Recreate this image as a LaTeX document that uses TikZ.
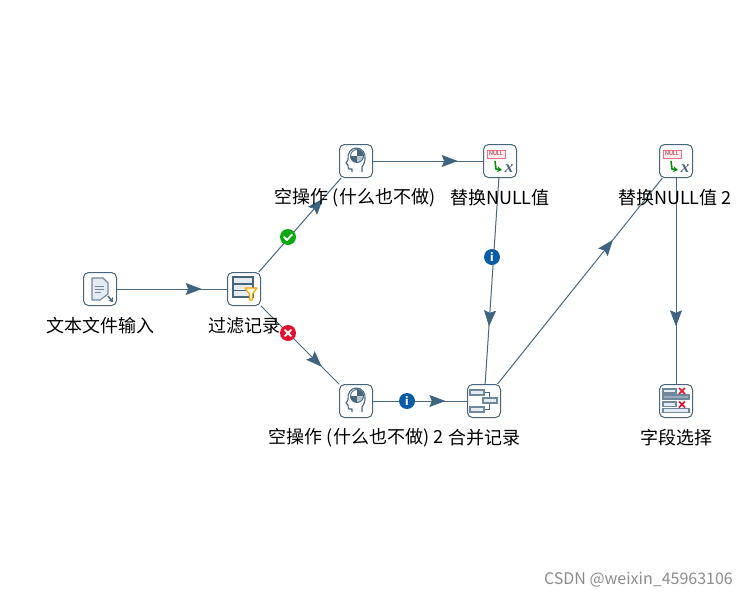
\documentclass[tikz,border=0pt]{standalone}
\usepackage{fontspec}
\setmainfont{Noto Sans CJK SC}
\newfontfamily\ifont{Liberation Serif}
\usetikzlibrary{arrows.meta,decorations.markings}
\definecolor{hop}{HTML}{3D6480}
\definecolor{edge}{HTML}{47657C}
\definecolor{icon}{HTML}{6F889C}
\definecolor{iconfill}{HTML}{E4ECF2}
\definecolor{okgreen}{HTML}{0BA80F}
\definecolor{badred}{HTML}{E0122F}
\definecolor{infoblue}{HTML}{0B5CA8}
\tikzset{
  x=1pt,y=-1pt,
  stepbox/.style={draw=edge,line width=1pt,rounded corners=5pt,fill=white,minimum size=33pt,inner sep=0pt},
  steplabel/.style={font=\fontsize{18}{20}\selectfont,inner sep=0pt,text=black},
  hopline/.style={draw=hop!85!gray,line width=1pt,postaction={decorate},decoration={markings,mark=at position #1 with {\arrow[hop]{Stealth[length=16pt,width=12pt,inset=2.5pt]}}}},
  badge/.style={circle,minimum size=16pt,inner sep=0pt},
  ic/.style={draw=edge,line width=1.1pt},
  icf/.style={draw=icon,line width=1.1pt,fill=iconfill},
}
\newcommand{\nullicon}[1]{%
  \begin{scope}[shift={(#1)}]
    \draw[draw=badred!60,fill=badred!7,line width=.7pt] (-13,-11) rectangle (5,-3);
    \node[inner sep=0pt,font=\fontsize{5.5}{6}\selectfont,text=badred!70!black] (nulltxt) at (-4,-7) {NULL};
    \draw[okgreen!85!black,line width=1.6pt,-{Stealth[length=5pt,width=6pt]}] (-5,0) -- (-4,8) -- (2,9);
    \node[inner sep=0pt,font=\fontsize{17}{17}\selectfont\ifont\itshape\bfseries,text=edge] (xtxt) at (9,8) {x};
  \end{scope}}
\newcommand{\nopicon}[1]{%
  \begin{scope}[shift={(#1)}]
    \draw[ic,fill=white,line join=round] (-4,11) -- (-4,8) -- (-7,8) .. controls (-8,8) and (-8,6) .. (-8,4) -- (-10,2) -- (-8,-1) .. controls (-9,-8) and (-5,-13) .. (0,-13) .. controls (6,-13) and (10,-8) .. (9,-2) .. controls (9,2) and (7,4) .. (6,6) -- (6,11);
    \fill[white] (1,-5) circle (6.5);
    \fill[edge] (1,-5) -- (-5.5,-5) arc (180:90:6.5) -- cycle;
    \fill[edge] (1,-5) -- (7.5,-5) arc (0:-90:6.5) -- cycle;
    \fill[icon!50] (1,-5) -- (7.5,-5) arc (0:90:6.5) -- cycle;
    \draw[edge,line width=.9pt] (1,-5) circle (6.5);
  \end{scope}}
\begin{document}
\begin{tikzpicture}
\useasboundingbox (0,0) rectangle (748,598);
\fill[white] (0,0) rectangle (748,598);
% nodes
\node[stepbox] (input) at (100,289) {};
\node[stepbox] (filter) at (244,289) {};
\node[stepbox] (nopa) at (356,161) {};
\node[stepbox] (repa) at (500,161) {};
\node[stepbox] (repb) at (676,161) {};
\node[stepbox] (nopb) at (356,401) {};
\node[stepbox] (merge) at (484,401) {};
\node[stepbox] (select) at (676,401) {};
% connectors
\path[hopline=.77] (input) -- (filter);
\path[hopline=.78] (filter) -- (nopa);
\path[hopline=.78] (filter) -- (nopb);
\path[hopline=.77] (nopa) -- (repa);
\path[hopline=.77] (nopb) -- (merge);
\path[hopline=.72] (repa) -- (merge);
\path[hopline=.70] (merge) -- (repb);
\path[hopline=.72] (repb) -- (select);
% text file icon
\begin{scope}[shift={(input.center)}]
  \draw[icf,line join=round] (-8,-11) -- (3,-11) -- (8,-6) -- (8,5) -- (0,11) -- (-8,11) -- cycle;
  \draw[icon,line width=1pt] (-5,-3) -- (4,-3) (-5,0) -- (4,0) (-5,3) -- (1,3);
  \draw[edge,line width=1.5pt,-{Stealth[length=4pt,width=6pt]}] (8,7) -- (13,13);
\end{scope}
% filter icon
\begin{scope}[shift={(filter.center)}]
  \draw[draw=edge,line width=1.2pt,fill=iconfill] (-11,-12) rectangle (9,8);
  \draw[edge,line width=1.3pt] (-11,-5) -- (9,-5) (-11,1.5) -- (9,1.5);
  \draw[orange!75!yellow,fill=yellow!12,line width=1.1pt,line join=round] (1,-1) -- (13,-1) -- (8.5,5) -- (8.5,11) -- (5.5,11) -- (5.5,5) -- cycle;
\end{scope}
\nopicon{nopa.center}
\nopicon{nopb.center}
\nullicon{repa.center}
\nullicon{repb.center}
% merge icon
\begin{scope}[shift={(merge.center)}]
  \draw[edge,line width=1pt] (0,-8.5) -- (5,-8.5) -- (5,8.5) -- (0,8.5) (5,0) -- (-1,0);
  \draw[icf] (-14,-11) rectangle (0,-6);
  \draw[icf] (-1,-3) rectangle (13,2);
  \draw[icf] (-14,6) rectangle (0,11);
\end{scope}
% select icon
\begin{scope}[shift={(select.center)}]
  \draw[icf] (-13,-12) rectangle (0,-8);
  \draw[draw=icon,line width=1.2pt,fill=icon!70] (-13,-6) rectangle (13,-2);
  \draw[icf] (-13,1) rectangle (0,5.5);
  \draw[icf] (-13,7.5) rectangle (13,11.5);
  \draw[badred,line width=1.5pt] (3,-13) -- (9,-7) (9,-13) -- (3,-7) (3,0.5) -- (9,6.5) (9,0.5) -- (3,6.5);
\end{scope}
% labels
\node[steplabel] (linput) at (100,326) {文本文件输入};
\node[steplabel] (lfilter) at (244,326) {过滤记录};
\node[steplabel] (lnopa) at (355,198) {空操作 (什么也不做)};
\node[steplabel] (lrepa) at (500,198) {替换NULL值};
\node[steplabel] (lrepb) at (675,198) {替换NULL值 2};
\node[steplabel] (lnopb) at (356,438) {空操作 (什么也不做) 2};
\node[steplabel] (lmerge) at (484,438) {合并记录};
\node[steplabel] (lselect) at (676,438) {字段选择};
% badges
\node[badge,fill=okgreen] (bok) at (288,237) {};
\draw[white,line width=1.8pt,line cap=round,line join=round] ([shift={(-4,0)}]bok.center) -- ([shift={(-1,3)}]bok.center) -- ([shift={(4,-2.5)}]bok.center);
\node[badge,fill=badred] (bbad) at (288,333) {};
\draw[white,line width=1.9pt,line cap=round] ([shift={(-3,-3)}]bbad.center) -- ([shift={(3,3)}]bbad.center) ([shift={(3,-3)}]bbad.center) -- ([shift={(-3,3)}]bbad.center);
\node[badge,fill=infoblue,text=white,font=\fontsize{11}{11}\selectfont\bfseries] (binfa) at (492,257) {i};
\node[badge,fill=infoblue,text=white,font=\fontsize{11}{11}\selectfont\bfseries] (binfb) at (407,401) {i};
% watermark
\node[inner sep=0pt,anchor=east,text=black!45,font=\fontsize{16}{16}\selectfont] (wm) at (733,580) {CSDN @weixin\_45963106};
\end{tikzpicture}
\end{document}
